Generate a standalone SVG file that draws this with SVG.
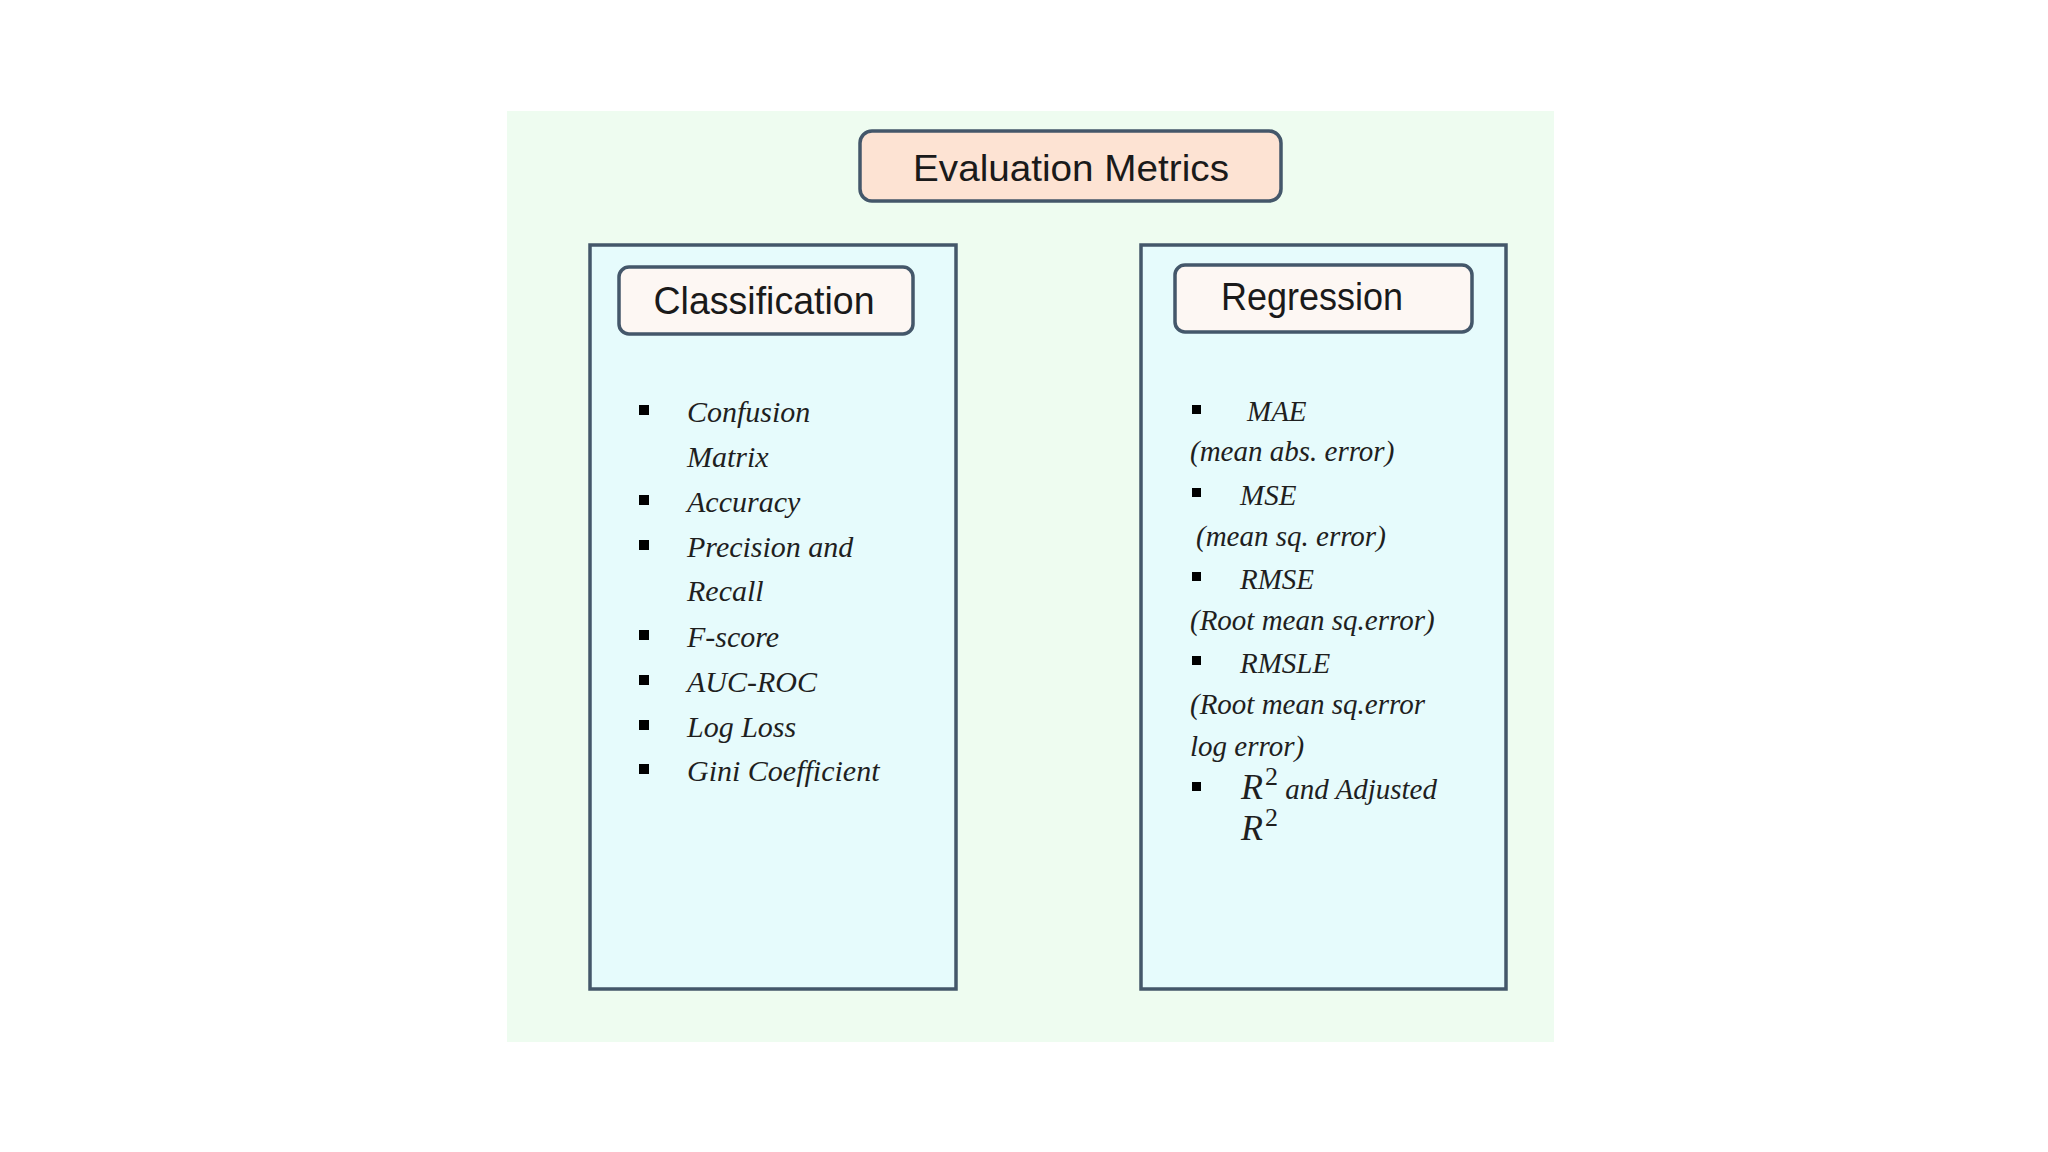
<svg xmlns="http://www.w3.org/2000/svg" width="2048" height="1152" viewBox="0 0 2048 1152">
<style>
.panel{fill:#e6fbfc;stroke:#44576a;stroke-width:3.5}
.hdr{stroke:#44576a;stroke-width:3.5}
.title{font-family:"Liberation Sans",Arial,sans-serif;fill:#1a1a1a}
.item{font-family:"Liberation Serif","Times New Roman",serif;font-style:italic;font-size:30px;fill:#1f1f1f}
.ritem{font-family:"Liberation Serif","Times New Roman",serif;font-style:italic;font-size:29px;fill:#1f1f1f}
.math{font-family:"Liberation Serif","Times New Roman",serif;font-style:italic;font-size:36px;fill:#1f1f1f}
.sup{font-family:"Liberation Serif","Times New Roman",serif;font-style:normal;font-size:26px}
.bul{fill:#000}
</style>
<rect x="0" y="0" width="2048" height="1152" fill="#ffffff"/>
<rect id="background" x="507" y="111" width="1047" height="931" fill="#eefcf0"/>

<g id="connectors"></g>

<g id="node-evaluation-metrics">
  <rect class="hdr" x="860" y="131" width="421" height="70" rx="12" fill="#fde3d3"/>
  <text class="title" x="1071" y="181" font-size="37" text-anchor="middle" textLength="316" lengthAdjust="spacingAndGlyphs">Evaluation Metrics</text>
</g>

<g id="node-classification">
  <rect class="panel" x="590" y="245" width="366" height="744"/>
  <rect class="hdr" x="619" y="267" width="294" height="67" rx="10" fill="#fdf7f3"/>
  <text class="title" x="764" y="314" font-size="38" text-anchor="middle" textLength="221" lengthAdjust="spacingAndGlyphs">Classification</text>
  <g class="bul">
    <rect x="639" y="405" width="10" height="10"/>
    <rect x="639" y="495" width="10" height="10"/>
    <rect x="639" y="540" width="10" height="10"/>
    <rect x="639" y="630" width="10" height="10"/>
    <rect x="639" y="675" width="10" height="10"/>
    <rect x="639" y="720" width="10" height="10"/>
    <rect x="639" y="764" width="10" height="10"/>
  </g>
  <text class="item" x="687" y="422">Confusion</text>
  <text class="item" x="687" y="467">Matrix</text>
  <text class="item" x="687" y="512">Accuracy</text>
  <text class="item" x="687" y="557">Precision and</text>
  <text class="item" x="687" y="601">Recall</text>
  <text class="item" x="687" y="647">F-score</text>
  <text class="item" x="687" y="692">AUC-ROC</text>
  <text class="item" x="687" y="737">Log Loss</text>
  <text class="item" x="687" y="781">Gini Coefficient</text>
</g>

<g id="node-regression">
  <rect class="panel" x="1141" y="245" width="365" height="744"/>
  <rect class="hdr" x="1175" y="265" width="297" height="67" rx="10" fill="#fdf7f3"/>
  <text class="title" x="1312" y="310" font-size="38" text-anchor="middle" textLength="182" lengthAdjust="spacingAndGlyphs">Regression</text>
  <g class="bul">
    <rect x="1192" y="405" width="9" height="9"/>
    <rect x="1192" y="488" width="9" height="9"/>
    <rect x="1192" y="572" width="9" height="9"/>
    <rect x="1192" y="656" width="9" height="9"/>
    <rect x="1192" y="782" width="9" height="9"/>
  </g>
  <text class="ritem" x="1247" y="421">MAE</text>
  <text class="ritem" x="1190" y="461">(mean abs. error)</text>
  <text class="ritem" x="1240" y="505">MSE</text>
  <text class="ritem" x="1196" y="546">(mean sq. error)</text>
  <text class="ritem" x="1240" y="589">RMSE</text>
  <text class="ritem" x="1190" y="630">(Root mean sq.error)</text>
  <text class="ritem" x="1240" y="673">RMSLE</text>
  <text class="ritem" x="1190" y="714">(Root mean sq.error</text>
  <text class="ritem" x="1190" y="756">log error)</text>
  <text class="math" x="1241" y="799">R<tspan class="sup" dx="2" dy="-14">2</tspan><tspan class="ritem" dy="14"> and Adjusted</tspan></text>
  <text class="math" x="1241" y="840">R<tspan class="sup" dx="2" dy="-14">2</tspan></text>
</g>
</svg>
